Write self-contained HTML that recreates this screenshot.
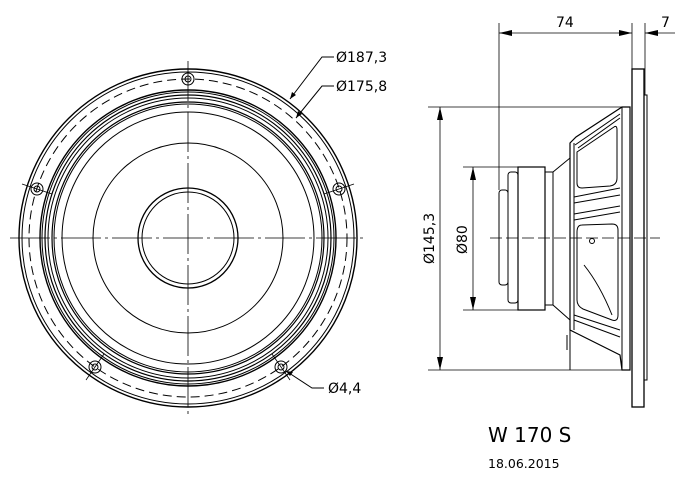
<!DOCTYPE html>
<html><head><meta charset="utf-8"><style>
html,body{margin:0;padding:0;background:#fff;}
svg{display:block;}
text{font-family:"DejaVu Sans","Liberation Sans",sans-serif;fill:#000;}
</style></head><body>
<svg width="700" height="479" viewBox="0 0 700 479" xmlns="http://www.w3.org/2000/svg">
<g fill="none" stroke="#000" stroke-width="1">
<!-- front view -->
<circle cx="188" cy="238" r="169" stroke-width="1.4"/>
<circle cx="188" cy="238" r="166"/>
<circle cx="188" cy="238" r="159" stroke-dasharray="9,5"/>
<circle cx="188" cy="238" r="148" stroke-width="1.4"/>
<circle cx="188" cy="238" r="146"/>
<circle cx="188" cy="238" r="143" stroke-width="1.2"/>
<circle cx="188" cy="238" r="140"/>
<circle cx="188" cy="238" r="136" stroke-width="1.2"/>
<circle cx="188" cy="238" r="134"/>
<circle cx="188" cy="238" r="126"/>
<circle cx="188" cy="238" r="95"/>
<circle cx="188" cy="238" r="50" stroke-width="1.3"/>
<circle cx="188" cy="238" r="46"/>
<!-- holes -->
<g>
<circle cx="188" cy="79" r="6"/><circle cx="188" cy="79" r="3"/>
<circle cx="37" cy="189" r="6"/><circle cx="37" cy="189" r="3"/>
<circle cx="339" cy="189" r="6"/><circle cx="339" cy="189" r="3"/>
<circle cx="95" cy="367" r="6"/><circle cx="95" cy="367" r="3"/>
<circle cx="281" cy="367" r="6"/><circle cx="281" cy="367" r="3"/>
</g>
<line x1="188" y1="61" x2="188" y2="417" stroke-dasharray="40,4,3,4" stroke-width="0.8"/>
<line x1="10" y1="238" x2="366" y2="238" stroke-dasharray="40,4,3,4" stroke-width="0.8"/>
<line x1="22" y1="184" x2="52" y2="194" stroke-width="0.8"/>
<line x1="324" y1="194" x2="354" y2="184" stroke-width="0.8"/>
<line x1="86" y1="380" x2="104" y2="354" stroke-width="0.8"/>
<line x1="272" y1="354" x2="290" y2="380" stroke-width="0.8"/>
<!-- leaders -->
<polyline points="290,99 322,57 334,57"/>
<polyline points="296,118 322,86 334,86"/>
<polyline points="286,371 312,388 324,388"/>
<!-- side view -->
<rect x="632" y="69" width="12" height="338" stroke-width="1.3"/>
<rect x="644" y="95" width="3" height="285"/>
<polygon points="570,143 576,137 622,107 630,107 630,370 622,370 620,355 576,333 570,330" stroke-width="1.2"/>
<line x1="574" y1="143" x2="574" y2="330"/>
<line x1="622" y1="107" x2="622" y2="370"/>
<line x1="575" y1="145" x2="620" y2="114"/>
<line x1="578" y1="148" x2="620" y2="118"/>
<rect x="573" y="120" width="45" height="65" rx="6" transform="skewY(-12) translate(0,123)" opacity="0"/>
<path d="M577,152 L614,127 Q617,125 617,130 L617,178 Q617,185 610,186 L582,188 Q577,188 577,183 Z"/>
<path d="M574,197 L620,188 M574,203 L620,195 M574,214 L620,206 M574,220 L620,212"/>
<path d="M582,225 L612,224 Q618,224 618,230 L618,315 Q618,322 612,320 L583,309 Q577,306 577,300 L577,232 Q577,225 582,225 Z"/>
<path d="M584,265 Q600,285 612,315"/>
<circle cx="592" cy="241" r="2.5"/>
<path d="M574,315 L620,330 M574,320 L620,337"/>
<line x1="570" y1="330" x2="570" y2="370"/>
<line x1="567" y1="335" x2="567" y2="350"/>
<polygon points="553,172 570,158 570,320 553,305"/>
<rect x="545" y="172" width="8" height="133"/>
<rect x="518" y="167" width="27" height="143" stroke-width="1.2"/>
<rect x="508" y="172" width="10" height="131" rx="3"/>
<rect x="499" y="190" width="9" height="95" rx="3"/>
<line x1="490" y1="238" x2="660" y2="238" stroke-dasharray="12,4" stroke-width="0.8"/>
<!-- dims -->
<line x1="499" y1="23" x2="499" y2="190" stroke-width="0.8"/>
<line x1="632" y1="23" x2="632" y2="69" stroke-width="0.8"/>
<line x1="645" y1="23" x2="645" y2="95" stroke-width="0.8"/>
<line x1="499" y1="33" x2="632" y2="33" stroke-width="0.8"/>
<line x1="645" y1="33" x2="675" y2="33" stroke-width="0.8"/>
<line x1="428" y1="107" x2="622" y2="107" stroke-width="0.8"/>
<line x1="428" y1="370" x2="622" y2="370" stroke-width="0.8"/>
<line x1="440" y1="107" x2="440" y2="370" stroke-width="0.8"/>
<line x1="463" y1="167" x2="518" y2="167" stroke-width="0.8"/>
<line x1="463" y1="310" x2="518" y2="310" stroke-width="0.8"/>
<line x1="473" y1="167" x2="473" y2="310" stroke-width="0.8"/>
</g>
<g fill="#000">
<polygon points="499,33 512,30 512,36"/>
<polygon points="632,33 619,30 619,36"/>
<polygon points="645,33 658,30 658,36"/>
<polygon points="440,107 437,120 443,120"/>
<polygon points="440,370 437,357 443,357"/>
<polygon points="473,167 470,180 476,180"/>
<polygon points="473,310 470,297 476,297"/>
<polygon points="290,99 292,92 296,95"/>
<polygon points="296,118 298,111 302,114"/>
<polygon points="286,371 293,372 290,376"/>
</g>
<g font-size="14">
<text x="336" y="62">Ø187,3</text>
<text x="336" y="91">Ø175,8</text>
<text x="328" y="393">Ø4,4</text>
<text x="556" y="27">74</text>
<text x="661" y="27">7</text>
<text transform="translate(434,264) rotate(-90)">Ø145,3</text>
<text transform="translate(467,254) rotate(-90)">Ø80</text>
</g>
<text x="488" y="442" font-size="20">W 170 S</text>
<text x="488" y="468" font-size="12.5">18.06.2015</text>
</svg>
</body></html>
